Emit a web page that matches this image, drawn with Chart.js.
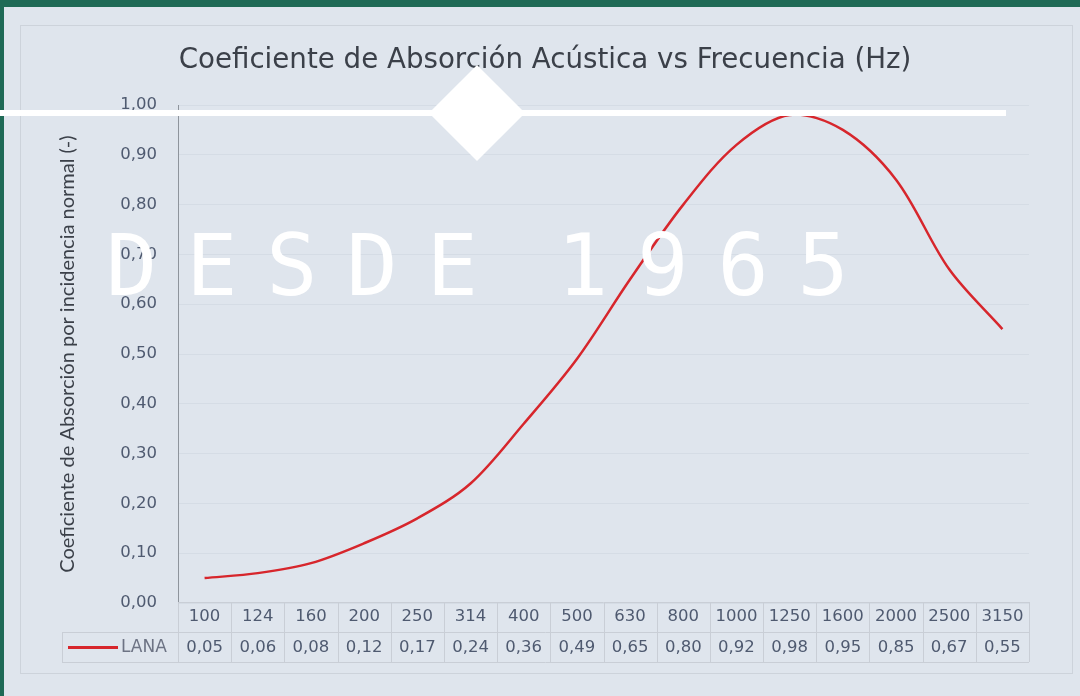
<!DOCTYPE html>
<html>
<head>
<meta charset="utf-8">
<script src="https://cdn.jsdelivr.net/npm/chart.js@4.4.0/dist/chart.umd.min.js"></script>
<style>
  html, body { margin: 0; padding: 0; }
  body { width: 1080px; height: 696px; position: relative; overflow: hidden; background: #1f6a56; }
  #frame { position: absolute; left: 4px; top: 7px; right: 0; bottom: 0; background: #dfe5ed; }
  #inner { position: absolute; left: 20px; top: 25px; width: 1053px; height: 649px; border: 1px solid #cdd3db; box-sizing: border-box; }
  #wrap { position: absolute; left: 0; top: 0; width: 1080px; height: 696px; }
  #hline { position: absolute; left: 0; top: 110px; width: 1006px; height: 6px; background: #ffffff; }
  #diamond { position: absolute; left: 477px; top: 113px; width: 68px; height: 68px; background: #ffffff; transform: translate(-50%, -50%) rotate(45deg); }
  #desde { position: absolute; left: 106px; top: 223px; font-family: 'DejaVu Sans Mono', monospace; font-size: 85px; letter-spacing: 29px; word-spacing: -30px; color: #ffffff; white-space: pre; line-height: 1; }
</style>
</head>
<body>
<div id="frame"></div>
<div id="inner"></div>
<div id="wrap"><canvas id="c" width="1080" height="696"></canvas></div>
<div id="hline"></div>
<div id="diamond"></div>
<div id="desde">DESDE 1965</div>
<script>
const categories = ['100','124','160','200','250','314','400','500','630','800','1000','1250','1600','2000','2500','3150'];
const lanaValues = [0.05,0.06,0.08,0.12,0.17,0.24,0.36,0.49,0.65,0.80,0.92,0.98,0.95,0.85,0.67,0.55];
const seriesName = 'LANA';
const chartTitle = 'Coeficiente de Absorción Acústica vs Frecuencia (Hz)';
const yAxisTitle = 'Coeficiente de Absorción por incidencia normal (-)';

const fmt = v => v.toFixed(2).replace('.', ',');
const tickColor = '#4f5a70';
const lineCol = '#c9ced6';
const red = '#d7262c';

const titlePlugin = {
  id: 'customTitle',
  afterDraw(chart) {
    const ctx = chart.ctx;
    ctx.save();
    ctx.fillStyle = '#3b4049';
    ctx.font = '27.7px "DejaVu Sans"';
    ctx.textAlign = 'center';
    ctx.textBaseline = 'middle';
    ctx.fillText(chartTitle, 545, 61);
    ctx.restore();
  }
};

const tablePlugin = {
  id: 'dataTable',
  afterDraw(chart) {
    const ctx = chart.ctx;
    const x = chart.scales.x;
    const area = chart.chartArea;
    const top = Math.round(area.bottom) - 1;
    const mid = top + 30;
    const bot = top + 60;
    const n = categories.length;
    const half = (x.getPixelForValue(1) - x.getPixelForValue(0)) / 2;
    const left = x.getPixelForValue(0) - half;
    const right = x.getPixelForValue(n - 1) + half;
    const tableLeft = 62;
    ctx.save();
    ctx.strokeStyle = lineCol;
    ctx.lineWidth = 1;
    ctx.beginPath();
    ctx.moveTo(left, top + 0.5); ctx.lineTo(right, top + 0.5);
    ctx.moveTo(tableLeft, mid + 0.5); ctx.lineTo(right, mid + 0.5);
    ctx.moveTo(tableLeft, bot + 0.5); ctx.lineTo(right, bot + 0.5);
    ctx.moveTo(tableLeft + 0.5, mid); ctx.lineTo(tableLeft + 0.5, bot);
    for (let i = 0; i <= n; i++) {
      const px = Math.round(left + i * 2 * half) + 0.5;
      ctx.moveTo(px, top); ctx.lineTo(px, bot);
    }
    ctx.stroke();
    ctx.strokeStyle = red;
    ctx.lineWidth = 3;
    ctx.beginPath();
    ctx.moveTo(68, mid + 15.5); ctx.lineTo(118, mid + 15.5);
    ctx.stroke();
    ctx.fillStyle = '#6d7384';
    ctx.font = '17px "DejaVu Sans"';
    ctx.textBaseline = 'middle';
    ctx.textAlign = 'left';
    ctx.fillText(seriesName, 121, mid + 16);
    ctx.fillStyle = tickColor;
    ctx.font = '16.5px "DejaVu Sans"';
    ctx.textAlign = 'center';
    lanaValues.forEach((v, i) => {
      ctx.fillText(fmt(v), x.getPixelForValue(i), mid + 16);
    });
    ctx.restore();
  }
};

new Chart(document.getElementById('c'), {
  type: 'line',
  data: {
    labels: categories,
    datasets: [{
      label: seriesName,
      data: lanaValues,
      borderColor: red,
      borderWidth: 2.5,
      pointRadius: 0,
      tension: 0.33,
      fill: false
    }]
  },
  options: {
    responsive: false,
    animation: false,
    layout: { padding: { left: 0, right: 51, top: 105, bottom: 32 } },
    plugins: {
      legend: { display: false },
      tooltip: { enabled: false },
      title: { display: false }
    },
    scales: {
      x: {
        offset: true,
        grid: { display: false, drawTicks: false },
        border: { display: false },
        ticks: { color: tickColor, font: { family: 'DejaVu Sans', size: 16.5 }, padding: 4, maxRotation: 0, autoSkip: false },
        afterFit(s) { s.height = 61; }
      },
      y: {
        min: 0, max: 1,
        grid: { color: 'rgba(150,160,175,0.12)', drawTicks: false },
        border: { display: true, color: '#8e949c', width: 1 },
        ticks: { stepSize: 0.1, color: tickColor, font: { family: 'DejaVu Sans', size: 16.5 }, padding: 21, callback: v => fmt(v) },
        title: { display: true, text: yAxisTitle, color: '#3b4049', font: { family: 'Lato', size: 20 }, padding: { top: 56, bottom: 0 } },
        afterFit(s) { s.width = 178; }
      }
    }
  },
  plugins: [tablePlugin, titlePlugin]
});
</script>
</body>
</html>
